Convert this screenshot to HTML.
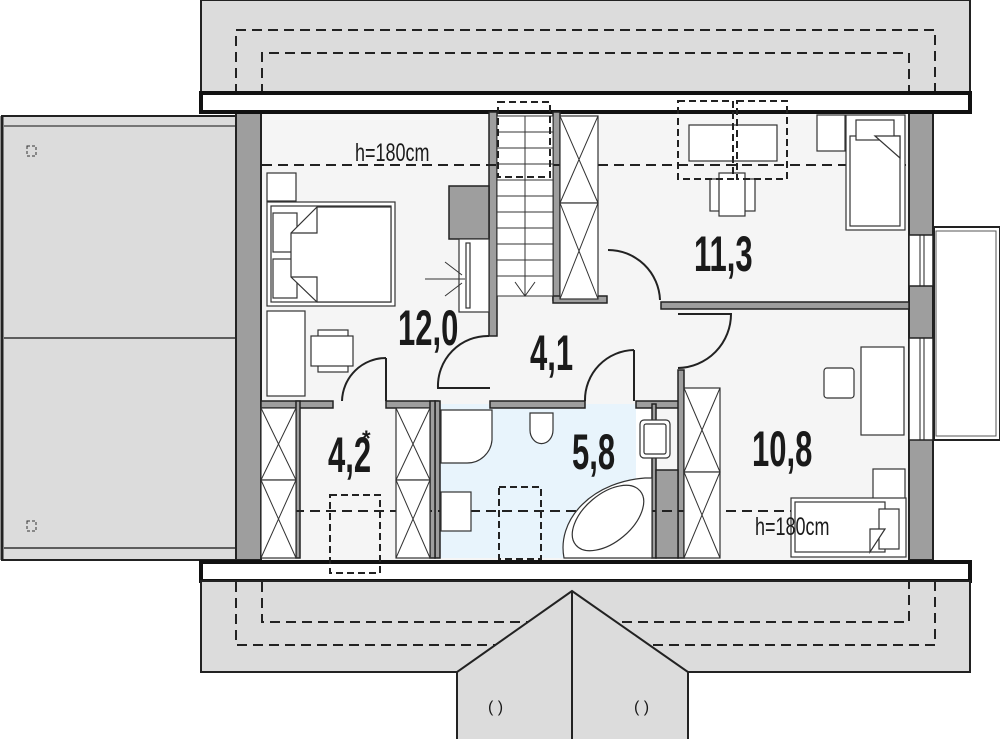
<!DOCTYPE html>
<html><head><meta charset="utf-8"><style>
html,body{margin:0;padding:0;background:#fff}
svg{display:block}
text{font-family:"Liberation Sans Narrow","Liberation Sans",sans-serif;fill:#1a1a1a}
</style></head><body>
<svg width="1000" height="739" viewBox="0 0 1000 739" xmlns="http://www.w3.org/2000/svg">
<rect x="201" y="0" width="769" height="94" fill="#dcdcdc" stroke="#222" stroke-width="2"/>
<g fill="none" stroke="#222" stroke-width="2" stroke-dasharray="10,6">
<path d="M236 94 V30 H935 V94"/>
<path d="M262 94 V53 H909 V94"/>
</g>
<rect x="2" y="116" width="236" height="444" fill="#dcdcdc" stroke="#222" stroke-width="2"/>
<line x1="4" y1="126" x2="236" y2="126" stroke="#555" stroke-width="1.5"/>
<line x1="4" y1="338" x2="236" y2="338" stroke="#333" stroke-width="1.5"/>
<line x1="4" y1="548" x2="236" y2="548" stroke="#333" stroke-width="1.5"/>
<line x1="2" y1="116" x2="2" y2="560" stroke="#222" stroke-width="3"/>
<rect x="27" y="146" width="9" height="10" fill="none" stroke="#333" stroke-dasharray="3,2"/>
<rect x="27" y="521" width="9" height="10" fill="none" stroke="#333" stroke-dasharray="3,2"/>
<rect x="934" y="227" width="66" height="213" fill="#fff" stroke="#222" stroke-width="2"/>
<rect x="936" y="231" width="60" height="205" fill="none" stroke="#555" stroke-width="1"/>
<rect x="236" y="112" width="698" height="448" fill="#f5f5f5"/>
<rect x="437" y="404" width="215" height="154" fill="#e8f4fc"/>
<rect x="636" y="404" width="18" height="154" fill="#fff"/>
<rect x="236" y="112" width="25" height="448" fill="#9e9e9e" stroke="#222" stroke-width="2"/>
<rect x="909" y="112" width="24" height="448" fill="#9e9e9e" stroke="#222" stroke-width="2"/>
<g fill="#fff" stroke="#222" stroke-width="1.5">
<rect x="909" y="235" width="24" height="51"/>
<rect x="909" y="338" width="24" height="102"/>
</g>
<g stroke="#222" stroke-width="1"><line x1="920" y1="235" x2="920" y2="286"/><line x1="924" y1="235" x2="924" y2="286"/><line x1="920" y1="338" x2="920" y2="440"/><line x1="924" y1="338" x2="924" y2="440"/></g>
<rect x="201" y="93" width="769" height="19" fill="#fff" stroke="#111" stroke-width="4"/>
<rect x="201" y="562" width="769" height="19" fill="#fff" stroke="#111" stroke-width="4"/>
<path d="M201 581 H970 V672 H688 V739 H457 V672 H201 Z" fill="#dcdcdc" stroke="#222" stroke-width="2"/>
<g fill="none" stroke="#222" stroke-width="2" stroke-dasharray="10,6">
<path d="M236 582 V645 H935 V582"/>
<path d="M262 582 V622 H909 V582"/>
</g>
<path d="M457 739 V672 L572 591 L688 672 V739" fill="#dcdcdc" stroke="#222" stroke-width="2"/>
<line x1="572" y1="591" x2="572" y2="739" stroke="#222" stroke-width="2"/>
<text x="488" y="712" font-size="16">( )</text>
<text x="634" y="712" font-size="16">( )</text>
<g fill="#9e9e9e" stroke="#222" stroke-width="1.5">
<rect x="261" y="401" width="72" height="7"/>
<rect x="386" y="401" width="52" height="7"/>
<rect x="435" y="401" width="5" height="157"/>
<rect x="490" y="401" width="95" height="7"/>
<rect x="636" y="401" width="48" height="7"/>
<rect x="678" y="370" width="6" height="188"/>
<rect x="652" y="404" width="4" height="154"/>
<rect x="656" y="470" width="22" height="88"/>
<rect x="489" y="112" width="8" height="224"/>
<rect x="449" y="186" width="40" height="53"/>
<rect x="553" y="112" width="7" height="188"/>
<rect x="553" y="296" width="54" height="7"/>
<rect x="661" y="302" width="248" height="7"/>
<rect x="296" y="401" width="4" height="157"/>
<rect x="430" y="401" width="5" height="157"/>
</g>
<g stroke="#222" stroke-width="2" stroke-dasharray="10,6">
<line x1="262" y1="165" x2="906" y2="165"/>
<line x1="262" y1="511" x2="906" y2="511"/>
</g>
<g stroke="#333" stroke-width="1" fill="none">
<rect x="497" y="116" width="56" height="180" fill="#fff"/>
<line x1="525" y1="116" x2="525" y2="296"/>
<path d="M497 132H553M497 148H553M497 164H553M497 180H553M497 196H553M497 212H553M497 228H553M497 244H553M497 260H553M497 276H553"/>
<path d="M515 282 L525 296 L535 282"/>
</g>
<rect x="498" y="102" width="52" height="75" fill="none" stroke="#222" stroke-width="2" stroke-dasharray="7,4"/>
<g fill="#fff" stroke="#333" stroke-width="1.2">
<rect x="560" y="116" width="38" height="87"/><rect x="560" y="203" width="38" height="96"/>
<rect x="261" y="408" width="35" height="72"/><rect x="261" y="480" width="35" height="78"/>
<rect x="396" y="408" width="34" height="72"/><rect x="396" y="480" width="34" height="78"/>
<rect x="684" y="388" width="36" height="84"/><rect x="684" y="472" width="36" height="86"/>
</g>
<g stroke="#333" stroke-width="1">
<path d="M560 116L598 203M598 116L560 203M560 203L598 299M598 203L560 299"/>
<path d="M261 408L296 480M296 408L261 480M261 480L296 558M296 480L261 558"/>
<path d="M396 408L430 480M430 408L396 480M396 480L430 558M430 480L396 558"/>
<path d="M684 388L720 472M720 388L684 472M684 472L720 558M720 472L684 558"/>
</g>
<g fill="none" stroke="#222" stroke-width="2">
<path d="M386 358 V401 M386 358 A44 44 0 0 0 342 401"/>
<path d="M489 336 A50 50 0 0 0 438 388 H490"/>
<path d="M634 350 V401 M634 350 A50 50 0 0 0 585 401"/>
<path d="M608 250 A52 52 0 0 1 660 300"/>
<path d="M678 314 H731 A54 54 0 0 1 678 368"/>
</g>
<g fill="#fff" stroke="#333" stroke-width="1.2">
<rect x="267" y="173" width="29" height="28"/>
<rect x="267" y="202" width="128" height="104"/>
<rect x="271" y="206" width="120" height="96" fill="none"/>
<rect x="273" y="213" width="24" height="39"/>
<rect x="273" y="259" width="24" height="39"/>
<path d="M317 207 H391 V302 H317 L291 277 V233 Z"/>
<path d="M291 233 H317 V207 M291 277 H317 V302" fill="none"/>
<rect x="267" y="311" width="38" height="85"/>
<rect x="318" y="330" width="30" height="42"/>
<rect x="311" y="336" width="42" height="30"/>
<rect x="459" y="239" width="30" height="73"/>
<rect x="466" y="243" width="4" height="65"/>
</g>
<g stroke="#333" stroke-width="1"><path d="M425 279 H465 M445 262 L462 275 M445 296 L462 283"/></g>
<g fill="#fff" stroke="#333" stroke-width="1.2">
<rect x="689" y="125" width="88" height="36"/>
<rect x="710" y="179" width="45" height="32"/>
<rect x="719" y="173" width="26" height="43"/>
<rect x="817" y="115" width="28" height="36"/>
<rect x="846" y="115" width="59" height="115"/>
<rect x="850" y="136" width="50" height="90"/>
<rect x="856" y="120" width="38" height="20"/>
<path d="M875 136 L900 158 V136 Z"/>
</g>
<g fill="none" stroke="#222" stroke-width="2" stroke-dasharray="7,4">
<rect x="678" y="101" width="55" height="78"/><rect x="737" y="101" width="50" height="78"/>
</g>
<g fill="#fff" stroke="#333" stroke-width="1.2">
<rect x="861" y="347" width="43" height="88"/>
<rect x="824" y="368" width="30" height="30" rx="3"/>
<rect x="873" y="469" width="32" height="30"/>
<rect x="791" y="498" width="115" height="59"/>
<rect x="795" y="502" width="90" height="50"/>
<rect x="879" y="509" width="20" height="40"/>
<path d="M885 529 L870 552 V529 Z"/>
</g>
<g fill="#fff" stroke="#333" stroke-width="1.2">
<path d="M441 410 H492 V440 A25 25 0 0 1 467 463 H441 Z"/>
<path d="M530 413 H553 V430 A11 13 0 0 1 530 430 Z"/>
<rect x="640" y="420" width="30" height="38" rx="4"/>
<rect x="644" y="424" width="22" height="30" rx="2"/>
<rect x="441" y="492" width="30" height="39"/>
<path d="M645 478 A90 70 0 0 0 564 558 H652 V478 Z"/>
<ellipse cx="608" cy="518" rx="42" ry="24" transform="rotate(-40 608 518)"/>
</g>
<rect x="499" y="487" width="42" height="72" fill="none" stroke="#222" stroke-width="2" stroke-dasharray="7,4"/>
<rect x="330" y="495" width="50" height="78" fill="none" stroke="#222" stroke-width="2" stroke-dasharray="7,4"/>
<g font-weight="bold" font-size="50">
<text x="398" y="345" transform="translate(398 0) scale(0.62 1) translate(-398 0)">12,0</text>
<text x="530" y="370" transform="translate(530 0) scale(0.62 1) translate(-530 0)">4,1</text>
<text x="694" y="271" transform="translate(694 0) scale(0.62 1) translate(-694 0)">11,3</text>
<text x="328" y="472" transform="translate(328 0) scale(0.62 1) translate(-328 0)">4,2</text>
<text x="572" y="469" transform="translate(572 0) scale(0.62 1) translate(-572 0)">5,8</text>
<text x="752" y="466" transform="translate(752 0) scale(0.62 1) translate(-752 0)">10,8</text>
</g>
<text x="362" y="446" font-size="22" font-weight="bold">*</text>
<g font-size="25">
<text x="355" y="161" transform="translate(355 0) scale(0.72 1) translate(-355 0)">h=180cm</text>
<text x="755" y="535" transform="translate(755 0) scale(0.72 1) translate(-755 0)">h=180cm</text>
</g>
</svg>
</body></html>
